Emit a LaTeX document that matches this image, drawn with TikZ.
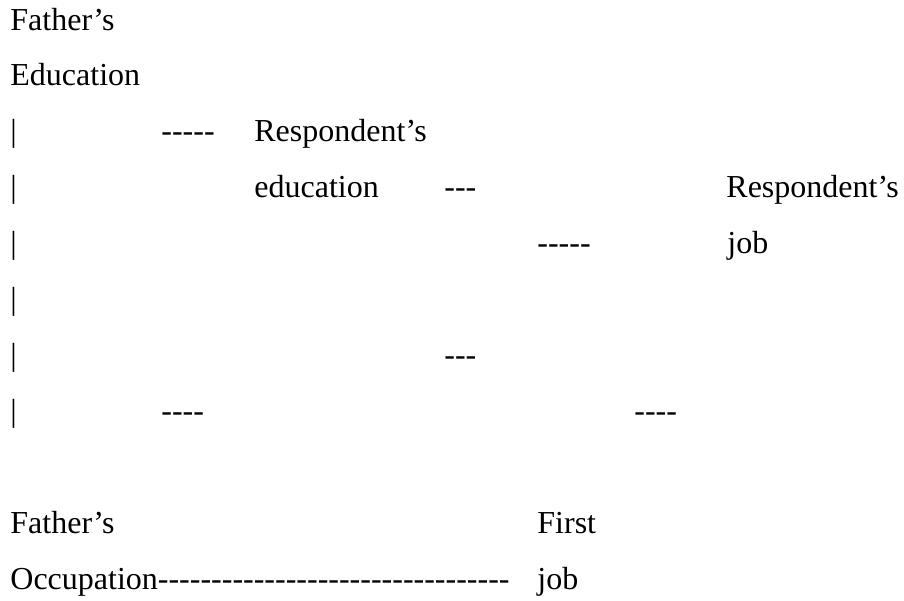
\documentclass[tikz,border=0pt]{standalone}
\usepackage{fontspec}
\setmainfont{Liberation Serif}[Ligatures=TeXOff]

\begin{document}
\begin{tikzpicture}[x=0.5pt,y=-0.5pt,
  txt/.style={anchor=base west,inner sep=0pt,font=\fontsize{16}{19}\selectfont}]
\useasboundingbox (0,0) rectangle (904,600);
% father's education and the bars below it
\node[txt] (fedu1) at (10,30) {Father’s};
\node[txt] (fedu2) at (10,85.9) {Education};
\foreach \r/\y in {3/141.8,4/197.7,5/253.6,6/309.5,7/365.4,8/421.3}
{	\node[txt] (bar\r) at (10,\y) {|};
}
% respondent's education
\node[txt] (d1) at (161,141.8) {-----};
\node[txt] (redu1) at (254,141.8) {Respondent’s};
\node[txt] (redu2) at (254,197.7) {education};
\node[txt] (d2) at (444,197.7) {---};
\node[txt] (d3) at (444,365.4) {---};
\node[txt] (d4) at (161,421.3) {----};
% respondent's job
\node[txt] (d5) at (537,253.6) {-----};
\node[txt] (rjob1) at (726,197.7) {Respondent’s};
\node[txt] (rjob2) at (727,253.6) {job};
\node[txt] (d6) at (634,421.3) {----};
% father's occupation and first job
\node[txt] (focc1) at (10,533.1) {Father’s};
\node[txt] (focc2) at (10,589) {Occupation---------------------------------};
\node[txt] (fjob1) at (537,533.1) {First};
\node[txt] (fjob2) at (537,589) {job};
\end{tikzpicture}
\end{document}
